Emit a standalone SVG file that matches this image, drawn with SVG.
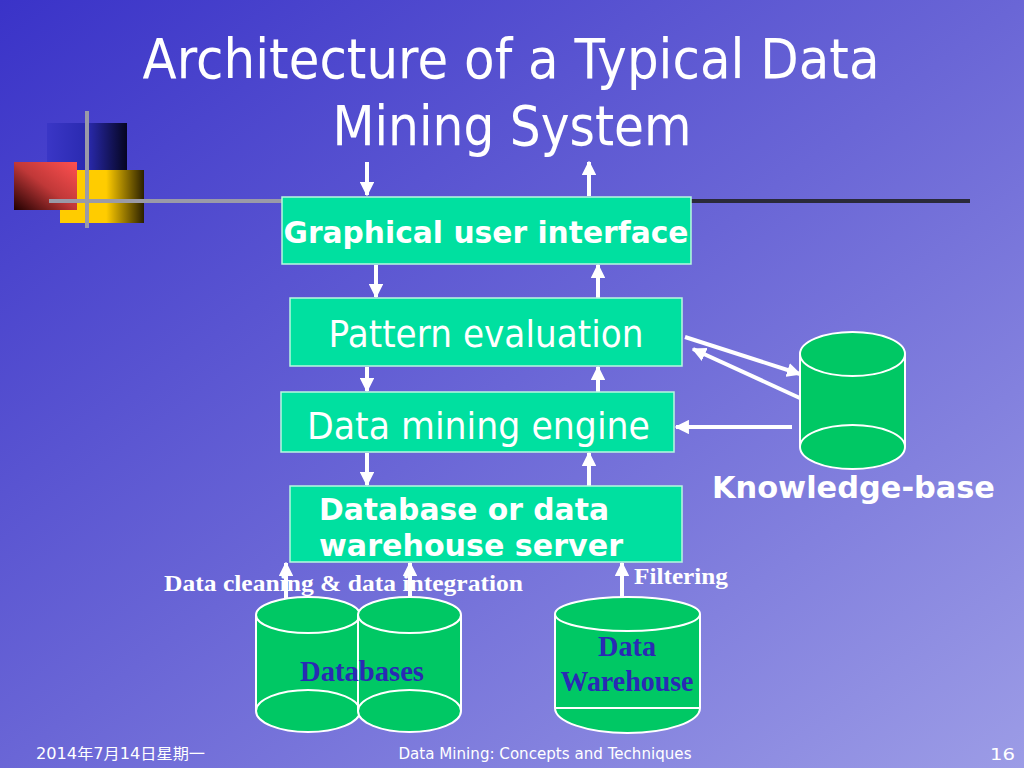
<svg xmlns="http://www.w3.org/2000/svg" width="1024" height="768" viewBox="0 0 1024 768">
<defs>
<linearGradient id="bg" x1="0" y1="0" x2="1" y2="1">
<stop offset="0" stop-color="#3a33c8"/>
<stop offset="0.5" stop-color="#6a66d6"/>
<stop offset="1" stop-color="#9c9ce6"/>
</linearGradient>
<linearGradient id="gBlue" x1="0" y1="0" x2="1" y2="0">
<stop offset="0" stop-color="#3a36c6"/>
<stop offset="0.5" stop-color="#2a2ab0"/>
<stop offset="1" stop-color="#050520"/>
</linearGradient>
<linearGradient id="gRed" x1="1" y1="0" x2="0" y2="1">
<stop offset="0" stop-color="#ff5050"/>
<stop offset="0.5" stop-color="#c03838"/>
<stop offset="1" stop-color="#200000"/>
</linearGradient>
<linearGradient id="gYel" x1="0" y1="0" x2="1" y2="0">
<stop offset="0" stop-color="#ffcc00"/>
<stop offset="0.55" stop-color="#ffcc00"/>
<stop offset="1" stop-color="#2a2000"/>
</linearGradient>
<marker id="ah" viewBox="0 0 10 10" refX="9" refY="5" markerWidth="3.6" markerHeight="3.6" orient="auto" markerUnits="strokeWidth">
<path d="M0,0 L10,5 L0,10 z" fill="#ffffff"/>
</marker>
<style>
.box{fill:#00e0a0;stroke:#b8f8e0;stroke-width:1.5}
.cyl{fill:#00c864;stroke:#ffffff;stroke-width:2}
.arr{stroke:#ffffff;stroke-width:4;fill:none;marker-end:url(#ah)}
.sans{font-family:"DejaVu Sans","Liberation Sans",sans-serif;fill:#ffffff}
.bold{font-weight:bold}
.serif{font-family:"Liberation Serif","Times New Roman",serif;font-weight:bold}
.foot{font-family:"DejaVu Sans","Liberation Sans","Noto Sans CJK SC",sans-serif;fill:#ffffff;font-size:15px}
</style>
</defs>
<rect x="0" y="0" width="1024" height="768" fill="url(#bg)"/>

<g id="decor">
<rect x="47" y="123" width="80" height="72" fill="url(#gBlue)"/>
<rect x="60" y="170" width="84" height="53" fill="url(#gYel)"/>
<rect x="14" y="162" width="63" height="48" fill="url(#gRed)"/>
<line x1="87" y1="111" x2="87" y2="228" stroke="#9a9aa8" stroke-width="4"/>
<line x1="49" y1="201" x2="282" y2="201" stroke="#9a9aa8" stroke-width="4"/>
<line x1="690" y1="201" x2="970" y2="201" stroke="#2a2a3a" stroke-width="4"/>
</g>

<g id="title" class="sans">
<text x="511" y="78" font-size="56" text-anchor="middle" textLength="737" lengthAdjust="spacingAndGlyphs">Architecture of a Typical Data</text>
<text x="512" y="145" font-size="56" text-anchor="middle" textLength="359" lengthAdjust="spacingAndGlyphs">Mining System</text>
</g>

<g id="connectors">
<line class="arr" x1="367" y1="162" x2="367" y2="195"/>
<line class="arr" x1="589" y1="196" x2="589" y2="162"/>
<line class="arr" x1="376" y1="265" x2="376" y2="297"/>
<line class="arr" x1="598" y1="298" x2="598" y2="265"/>
<line class="arr" x1="367" y1="367" x2="367" y2="391"/>
<line class="arr" x1="598" y1="392" x2="598" y2="367"/>
<line class="arr" x1="367" y1="453" x2="367" y2="485"/>
<line class="arr" x1="589" y1="486" x2="589" y2="453"/>
<line class="arr" x1="286" y1="604" x2="286" y2="563"/>
<line class="arr" x1="410" y1="614" x2="410" y2="563"/>
<line class="arr" x1="622" y1="612" x2="622" y2="563"/>
<line class="arr" x1="685" y1="337" x2="800" y2="374"/>
<line class="arr" x1="802" y1="399" x2="693" y2="349"/>
<line class="arr" x1="792" y1="427" x2="676" y2="427"/>
</g>

<g id="gui">
<rect class="box" x="282" y="197" width="409" height="67"/>
<text class="sans bold" x="486" y="243" font-size="30" text-anchor="middle" textLength="405" lengthAdjust="spacingAndGlyphs">Graphical user interface</text>
</g>

<g id="pattern">
<rect class="box" x="290" y="298" width="392" height="68"/>
<text class="sans" x="486" y="347" font-size="38" text-anchor="middle" textLength="315" lengthAdjust="spacingAndGlyphs">Pattern evaluation</text>
</g>

<g id="engine">
<rect class="box" x="281" y="392" width="393" height="60"/>
<text class="sans" x="307" y="439" font-size="38" textLength="343" lengthAdjust="spacingAndGlyphs">Data mining engine</text>
</g>

<g id="server">
<rect class="box" x="290" y="486" width="392" height="76"/>
<text class="sans bold" x="319" y="520" font-size="30" textLength="290" lengthAdjust="spacingAndGlyphs">Database or data</text>
<text class="sans bold" x="319" y="556" font-size="30" textLength="304" lengthAdjust="spacingAndGlyphs">warehouse server</text>
</g>

<g id="knowledge-base">
<path class="cyl" d="M800,354 L800,447 A52.5,22 0 0 0 905,447 L905,354"/>
<ellipse class="cyl" cx="852.5" cy="354" rx="52.5" ry="22"/>
<path d="M800,447 A52.5,22 0 0 1 905,447" fill="none" stroke="#ffffff" stroke-width="2"/>
<text class="sans bold" x="712" y="498" font-size="30" textLength="283" lengthAdjust="spacingAndGlyphs">Knowledge-base</text>
</g>

<g id="databases">
<path class="cyl" d="M256,615 L256,711 A52,21 0 0 0 360,711 L360,615"/>
<ellipse class="cyl" cx="308" cy="615" rx="52" ry="18"/>
<path d="M256,711 A52,21 0 0 1 360,711" fill="none" stroke="#ffffff" stroke-width="2"/>
<path class="cyl" d="M358,615 L358,711 A51.5,21 0 0 0 461,711 L461,615"/>
<ellipse class="cyl" cx="409.5" cy="615" rx="51.5" ry="18"/>
<path d="M358,711 A51.5,21 0 0 1 461,711" fill="none" stroke="#ffffff" stroke-width="2"/>
<text class="serif" x="362" y="681" font-size="30" text-anchor="middle" fill="#2a2ab4" textLength="124" lengthAdjust="spacingAndGlyphs">Databases</text>
</g>

<g id="warehouse">
<path class="cyl" d="M555,614 L555,708 A72.5,25 0 0 0 700,708 L700,614"/>
<ellipse class="cyl" cx="627.5" cy="614" rx="72.5" ry="17"/>
<line x1="555" y1="708" x2="700" y2="708" stroke="#ffffff" stroke-width="2"/>
<text class="serif" x="627" y="656" font-size="30" text-anchor="middle" fill="#2a2ab4" textLength="58" lengthAdjust="spacingAndGlyphs">Data</text>
<text class="serif" x="627" y="691" font-size="30" text-anchor="middle" fill="#2a2ab4" textLength="133" lengthAdjust="spacingAndGlyphs">Warehouse</text>
</g>

<g id="labels">
<text class="serif" x="164" y="591" font-size="23" fill="#ffffff" textLength="359" lengthAdjust="spacingAndGlyphs">Data cleaning &amp; data integration</text>
<text class="serif" x="634" y="584" font-size="23" fill="#ffffff" textLength="94" lengthAdjust="spacingAndGlyphs">Filtering</text>
</g>

<g id="footer">
<text class="foot" x="36" y="759" textLength="169" lengthAdjust="spacingAndGlyphs">2014年7月14日星期一</text>
<text class="foot" x="545" y="759" text-anchor="middle" textLength="293" lengthAdjust="spacingAndGlyphs">Data Mining: Concepts and Techniques</text>
<text class="foot" x="1015" y="760" font-size="20" text-anchor="end" textLength="25" lengthAdjust="spacingAndGlyphs">16</text>
</g>
</svg>
